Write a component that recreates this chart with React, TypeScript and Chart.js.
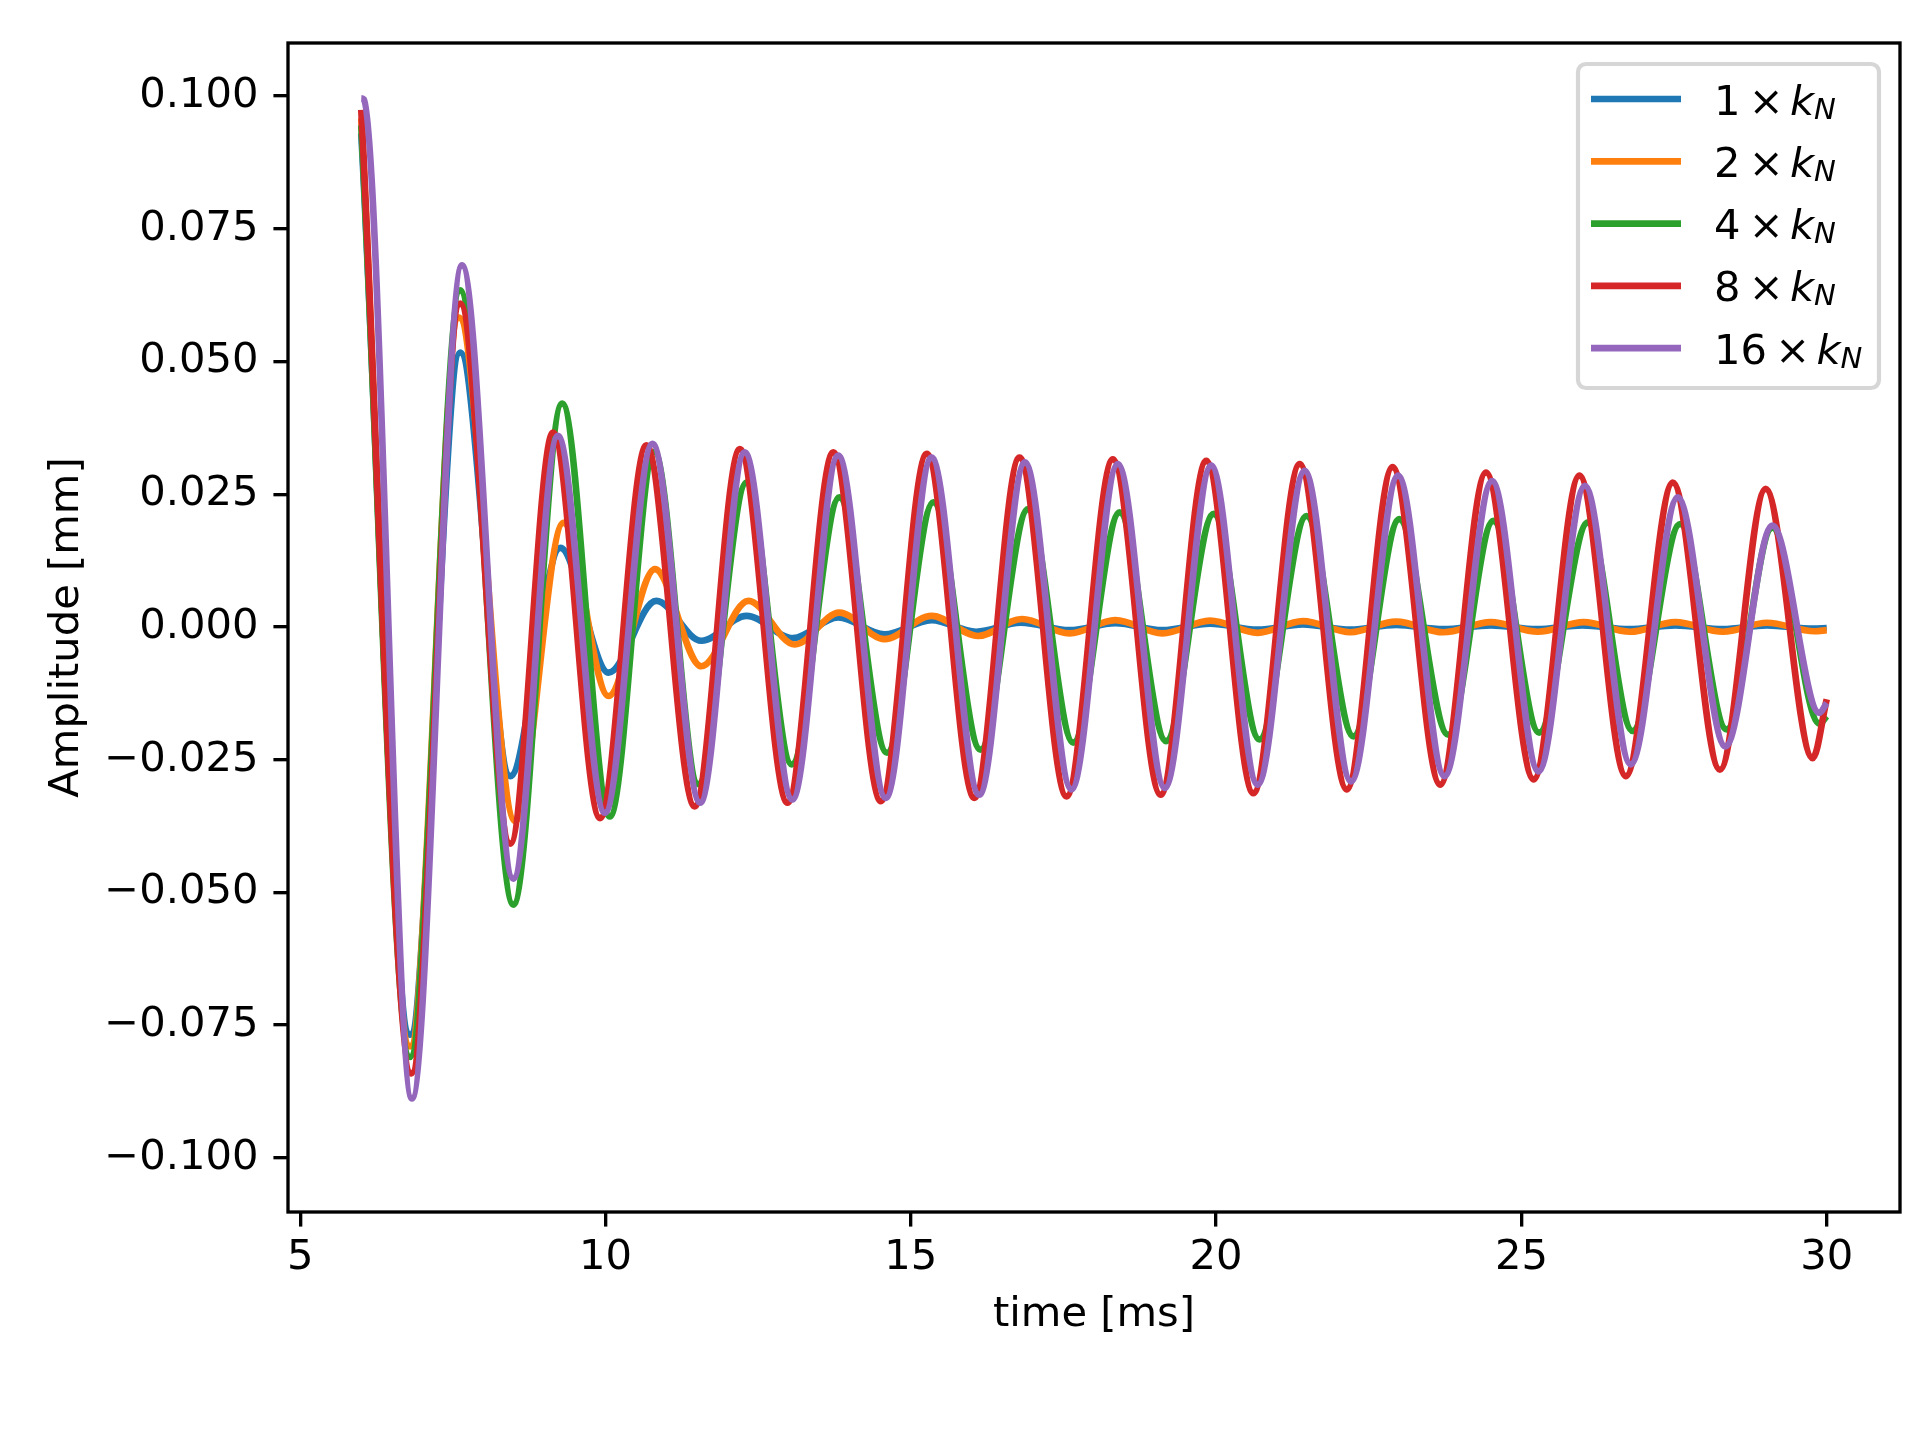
import { useEffect, useRef } from "react"
import { Chart, registerables } from "chart.js"

Chart.register(...registerables)

// matplotlib-like sizes at 300 dpi
const PT = 300 / 72
const FONT = '"DejaVu Sans"'
const FS = 10 * PT
const LW = 1.6 * PT

const COLORS = ["#1f77b4", "#ff7f0e", "#2ca02c", "#d62728", "#9467bd"]
const FACTORS = ["1", "2", "4", "8", "16"]

const xTicks = [5, 10, 15, 20, 25, 30]
const yTicks = [-0.1, -0.075, -0.05, -0.025, 0, 0.025, 0.05, 0.075, 0.1]

// turning points: time [ms] / amplitude [mm]
const t1 = [6.0, 6.8, 7.62, 8.44, 9.26, 10.05, 10.83, 11.57, 12.31, 13.07, 13.81, 14.57, 15.34, 16.07, 16.8, 17.6, 18.35, 19.12, 19.9, 20.68, 21.42, 22.2, 22.95, 23.72, 24.5, 25.25, 26.0, 26.76, 27.52, 28.3, 29.02, 29.78, 30.0]
const y1 = [0.093, -0.0768, 0.0517, -0.0281, 0.0149, -0.0086, 0.0049, -0.0026, 0.0021, -0.0021, 0.0018, -0.0014, 0.0013, -0.0009, 0.0008, -0.0006, 0.0007, -0.0006, 0.0006, -0.0005, 0.0005, -0.0005, 0.0004, -0.0004, 0.0003, -0.0004, 0.0003, -0.0004, 0.0003, -0.0004, 0.0003, -0.0003, -0.0002]

const t2 = [6.0, 6.8, 7.6, 8.52, 9.31, 10.05, 10.81, 11.57, 12.34, 13.1, 13.83, 14.57, 15.34, 16.1, 16.82, 17.6, 18.35, 19.12, 19.9, 20.68, 21.42, 22.2, 22.95, 23.72, 24.5, 25.27, 26.02, 26.78, 27.52, 28.3, 29.02, 29.8, 30.0]
const y2 = [0.0958, -0.079, 0.0583, -0.0366, 0.0196, -0.013, 0.0109, -0.0074, 0.0049, -0.0033, 0.0027, -0.0023, 0.0021, -0.0017, 0.0015, -0.0012, 0.0013, -0.0012, 0.0012, -0.0011, 0.0011, -0.001, 0.001, -0.001, 0.0009, -0.0009, 0.0009, -0.0009, 0.0009, -0.0009, 0.0008, -0.0008, -0.0006]

const t3 = [6.0, 6.8, 7.62, 8.49, 9.29, 10.07, 10.8, 11.52, 12.31, 13.05, 13.83, 14.61, 15.37, 16.14, 16.92, 17.66, 18.42, 19.18, 19.96, 20.71, 21.48, 22.25, 23.0, 23.8, 24.54, 25.29, 26.09, 26.82, 27.6, 28.36, 29.11, 29.88, 30.0]
const y3 = [0.0945, -0.081, 0.0634, -0.0523, 0.0421, -0.0357, 0.033, -0.0296, 0.0272, -0.0259, 0.0244, -0.0237, 0.0235, -0.0231, 0.0222, -0.0218, 0.0216, -0.0215, 0.0213, -0.0212, 0.0209, -0.0206, 0.0203, -0.0203, 0.02, -0.0199, 0.0197, -0.0196, 0.0194, -0.0193, 0.0187, -0.0182, -0.0168]

const t4 = [6.0, 6.82, 7.62, 8.44, 9.14, 9.91, 10.67, 11.46, 12.2, 12.98, 13.73, 14.51, 15.26, 16.04, 16.78, 17.55, 18.31, 19.09, 19.84, 20.61, 21.37, 22.14, 22.89, 23.67, 24.42, 25.2, 25.95, 26.71, 27.48, 28.25, 29.0, 29.77, 30.0]
const y4 = [0.0974, -0.0841, 0.0609, -0.0408, 0.0366, -0.036, 0.0342, -0.0338, 0.0335, -0.0331, 0.0329, -0.0328, 0.0326, -0.0322, 0.0319, -0.0319, 0.0316, -0.0316, 0.0313, -0.0313, 0.0307, -0.0306, 0.0301, -0.0297, 0.0291, -0.0287, 0.0285, -0.0281, 0.0272, -0.0269, 0.026, -0.0247, -0.0136]

const t5 = [6.0, 6.04, 6.83, 7.65, 8.49, 9.22, 9.99, 10.77, 11.55, 12.28, 13.06, 13.81, 14.59, 15.34, 16.12, 16.87, 17.63, 18.39, 19.16, 19.92, 20.68, 21.45, 22.21, 22.98, 23.74, 24.52, 25.28, 26.04, 26.79, 27.56, 28.34, 29.11, 29.88, 30.0]
const y5 = [0.0996, 0.0994, -0.0888, 0.0681, -0.0474, 0.036, -0.035, 0.0345, -0.0331, 0.0329, -0.0325, 0.0323, -0.0322, 0.0319, -0.0316, 0.031, -0.0306, 0.0307, -0.0303, 0.0304, -0.0297, 0.0294, -0.0291, 0.0285, -0.0281, 0.0275, -0.0272, 0.0266, -0.0259, 0.0244, -0.0225, 0.0191, -0.0162, -0.0143]

const series = [
  [t1, y1],
  [t2, y2],
  [t3, y3],
  [t4, y4],
  [t5, y5],
]

const fmtY = (v: number) => (v < -1e-9 ? "\u2212" : "") + Math.abs(v).toFixed(3)

// top and right spines, matplotlib style box
const framePlugin = {
  id: "frame",
  afterDatasetsDraw(chart: any) {
    const { ctx, chartArea: a } = chart
    ctx.save()
    ctx.strokeStyle = "#000"
    ctx.lineWidth = 0.8 * PT
    ctx.lineJoin = "miter"
    ctx.strokeRect(a.left, a.top, a.right - a.left, a.bottom - a.top)
    ctx.restore()
  },
}

// legend with "n × k_N" labels (italic k, subscript N)
const legendPlugin = {
  id: "mathLegend",
  afterDraw(chart: any) {
    const { ctx, chartArea: a } = chart
    const w = 301
    const h = 324
    const x0 = a.right - 21 - w
    const y0 = a.top + 21
    ctx.save()
    ctx.beginPath()
    ctx.roundRect(x0, y0, w, h, 8)
    ctx.fillStyle = "rgba(255,255,255,0.8)"
    ctx.fill()
    ctx.lineWidth = 1 * PT
    ctx.strokeStyle = "rgba(204,204,204,0.8)"
    ctx.stroke()

    FACTORS.forEach((f, i) => {
      const cy = y0 + 35 + i * 62.3
      ctx.beginPath()
      ctx.moveTo(x0 + 13, cy)
      ctx.lineTo(x0 + 103, cy)
      ctx.strokeStyle = COLORS[i]
      ctx.lineWidth = LW
      ctx.lineCap = "butt"
      ctx.stroke()

      const base = cy + 15.5
      let x = x0 + 136
      ctx.fillStyle = "#000"
      ctx.textBaseline = "alphabetic"
      ctx.textAlign = "left"
      ctx.font = `${FS}px ${FONT}`
      ctx.fillText(f, x, base)
      x += ctx.measureText(f).width + 0.2 * FS
      ctx.fillText("\u00d7", x, base)
      x += ctx.measureText("\u00d7").width + 0.15 * FS
      ctx.font = `italic ${FS}px ${FONT}`
      ctx.fillText("k", x, base)
      x += ctx.measureText("k").width
      ctx.font = `italic ${FS * 0.7}px ${FONT}`
      ctx.fillText("N", x, base + 4)
    })
    ctx.restore()
  },
}

export default function App() {
  const canvasRef = useRef<HTMLCanvasElement>(null)
  const chartRef = useRef<Chart | null>(null)

  useEffect(() => {
    if (!canvasRef.current) return
    if (chartRef.current) chartRef.current.destroy()
    const ctx = canvasRef.current.getContext("2d")
    if (!ctx) return

    const font = { family: FONT, size: FS }
    const axisGrid = {
      drawOnChartArea: false,
      drawTicks: true,
      tickLength: 3.5 * PT,
      tickWidth: 0.8 * PT,
      tickColor: "#000",
      color: "#000",
      lineWidth: 0.8 * PT,
    }

    chartRef.current = new Chart(ctx, {
      type: "line",
      data: {
        datasets: series.map(([ts, ys], i) => ({
          label: `${FACTORS[i]} × kN`,
          data: ts.map((t, j) => ({ x: t, y: ys[j] })),
          borderColor: COLORS[i],
          backgroundColor: COLORS[i],
          borderWidth: LW,
          pointRadius: 0,
          fill: false,
          cubicInterpolationMode: "monotone" as const,
          order: 5 - i,
        })),
      },
      options: {
        animation: false,
        responsive: true,
        maintainAspectRatio: false,
        devicePixelRatio: 1,
        layout: { padding: { left: 0, right: 20, top: 43, bottom: 0 } },
        plugins: {
          legend: { display: false },
          tooltip: { enabled: false },
        },
        scales: {
          x: {
            type: "linear",
            min: 4.8,
            max: 31.2,
            afterBuildTicks: (s: any) => {
              s.ticks = xTicks.map((v) => ({ value: v }))
            },
            afterFit: (s: any) => {
              s.height = 228
            },
            border: { display: false },
            grid: axisGrid,
            ticks: {
              color: "#000",
              font,
              padding: 7,
              maxRotation: 0,
              autoSkip: false,
              callback: (v: any) => String(v),
            },
            title: {
              display: true,
              text: "time [ms]",
              color: "#000",
              font,
              padding: { top: 0, bottom: 100 },
            },
          },
          y: {
            type: "linear",
            min: -0.1102,
            max: 0.11,
            afterBuildTicks: (s: any) => {
              s.ticks = yTicks.map((v) => ({ value: v }))
            },
            afterFit: (s: any) => {
              s.width = 288
            },
            border: { display: false },
            grid: axisGrid,
            ticks: {
              color: "#000",
              font,
              padding: 15,
              autoSkip: false,
              callback: (v: any) => fmtY(Number(v)),
            },
            title: {
              display: true,
              text: "Amplitude [mm]",
              color: "#000",
              font,
              padding: { top: 42, bottom: 0 },
            },
          },
        },
      },
      plugins: [framePlugin, legendPlugin],
    })

    return () => {
      if (chartRef.current) {
        chartRef.current.destroy()
        chartRef.current = null
      }
    }
  }, [])

  return (
    <div style={{ position: "absolute", left: 0, top: 0, width: 1920, height: 1440, background: "#fff" }}>
      <canvas ref={canvasRef} />
    </div>
  )
}
